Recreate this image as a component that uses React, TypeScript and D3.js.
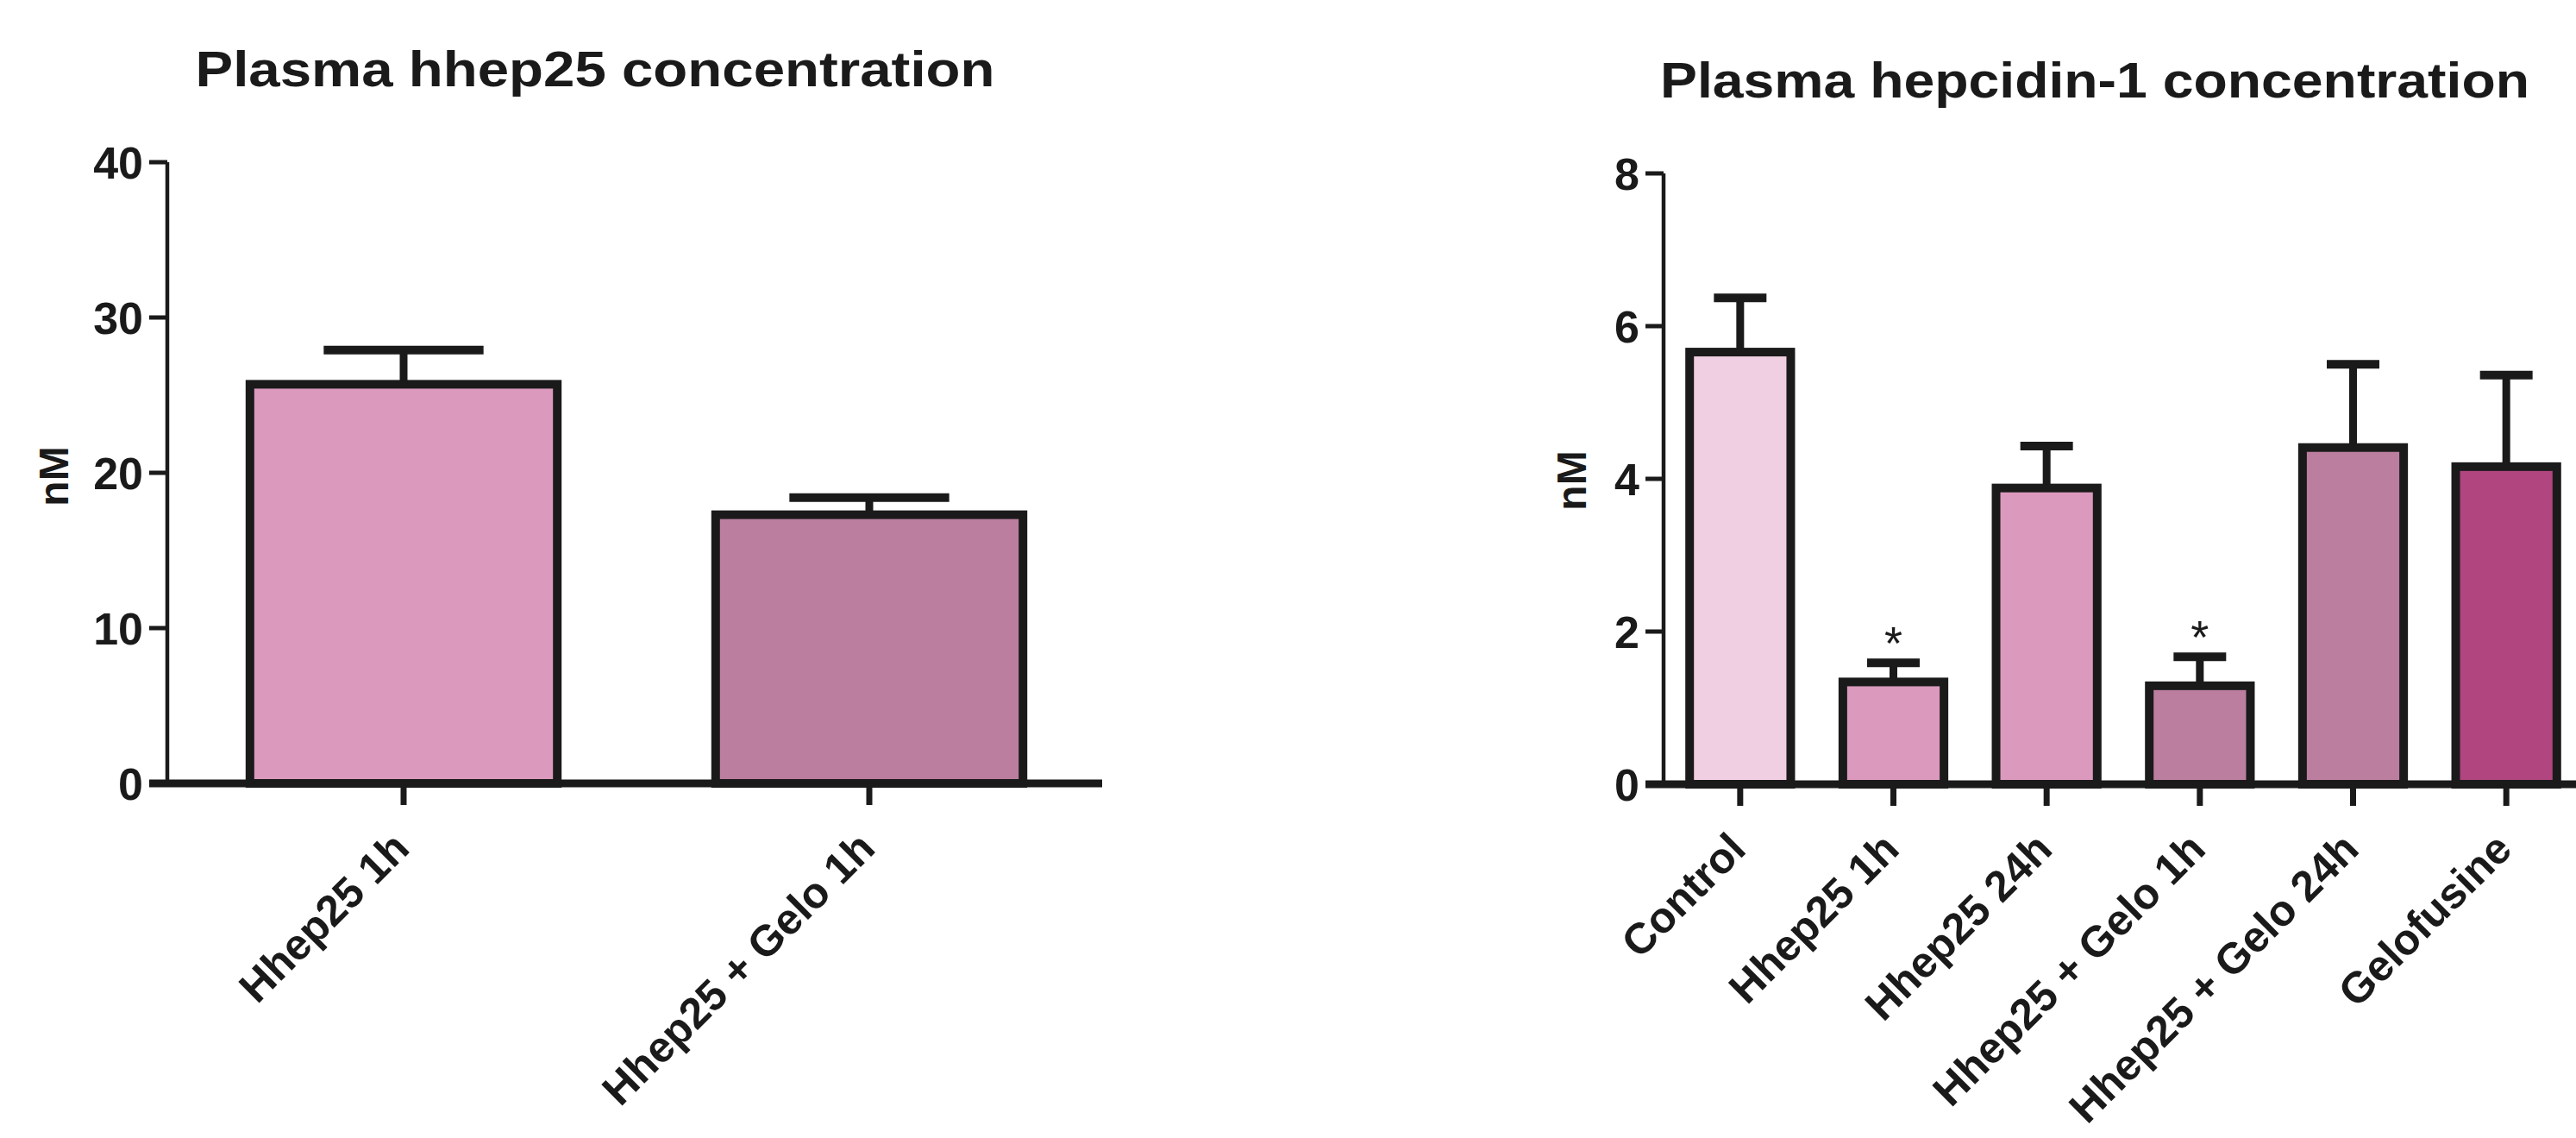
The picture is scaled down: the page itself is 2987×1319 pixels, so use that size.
import React from "react";
import * as d3 from "d3";

// ---- Data ----
const leftTitle = "Plasma hhep25 concentration";
const leftCategories = ["Hhep25 1h", "Hhep25 + Gelo 1h"];
const leftMeans = [25.7, 17.3];
const leftSem = [2.2, 1.1];
const leftColors = ["#DA99BD", "#BB7E9F"];
const leftTicks = [0, 10, 20, 30, 40];

const rightTitle = "Plasma hepcidin-1 concentration";
const rightCategories = ["Control", "Hhep25 1h", "Hhep25 24h", "Hhep25 + Gelo 1h", "Hhep25 + Gelo 24h", "Gelofusine"];
const rightMeans = [5.66, 1.34, 3.88, 1.29, 4.41, 4.16];
const rightSem = [0.71, 0.25, 0.55, 0.38, 1.09, 1.2];
const rightSig = ["", "*", "", "*", "", ""];
const rightColors = ["#EFCFE1", "#DA99BD", "#DA99BD", "#BB7E9F", "#BB7E9F", "#B0457F"];
const rightTicks = [0, 2, 4, 6, 8];

const yLabel = "nM";

const FONT = "'Liberation Sans', Arial, Helvetica, sans-serif";
const INK = "#1a1a1a";

type PanelProps = {
  title: string;
  titleX: number;
  titleY: number;
  titleW: number;
  cats: string[];
  means: number[];
  sems: number[];
  colors: string[];
  sig?: string[];
  ticks: number[];
  yMax: number;
  axisX: number;
  xStart: number;
  xEnd: number;
  yTop: number;
  yBottom: number;
  yLabelX: number;
  yLabelY: number;
};

function Panel(p: PanelProps) {
  const y = d3.scaleLinear().domain([0, p.yMax]).range([p.yBottom, p.yTop]);
  const x = d3
    .scaleBand<string>()
    .domain(p.cats)
    .range([p.xStart, p.xEnd])
    .paddingInner(0.34)
    .paddingOuter(0.17);
  const bw = x.bandwidth();
  const capW = bw * 0.52;
  return (
    <g>
      <text
        x={p.titleX}
        y={p.titleY}
        textAnchor="middle"
        fontFamily={FONT}
        fontWeight="bold"
        fontSize={58}
        textLength={p.titleW}
        lengthAdjust="spacingAndGlyphs"
        fill={INK}
      >
        {p.title}
      </text>
      <text
        transform={`translate(${p.yLabelX},${p.yLabelY}) rotate(-90)`}
        textAnchor="middle"
        dominantBaseline="central"
        fontFamily={FONT}
        fontWeight="bold"
        fontSize={48}
        fill={INK}
      >
        {yLabel}
      </text>
      {/* y axis */}
      <line x1={p.axisX} x2={p.axisX} y1={y(p.yMax)} y2={y(0)} stroke={INK} strokeWidth={4.5} />
      {p.ticks.map((t) => (
        <g key={t}>
          <line x1={p.axisX - 21} x2={p.axisX} y1={y(t)} y2={y(t)} stroke={INK} strokeWidth={5} />
          <text
            x={p.axisX - 28}
            y={y(t) + 19}
            textAnchor="end"
            fontFamily={FONT}
            fontWeight="bold"
            fontSize={52}
            fill={INK}
          >
            {t}
          </text>
        </g>
      ))}
      {/* bars */}
      {p.cats.map((c, i) => {
        const x0 = x(c)!;
        const cx = x0 + bw / 2;
        const top = y(p.means[i]);
        const errY = y(p.means[i] + p.sems[i]);
        return (
          <g key={c}>
            <line x1={cx} x2={cx} y1={top} y2={errY} stroke={INK} strokeWidth={9} />
            <line x1={cx - capW / 2} x2={cx + capW / 2} y1={errY} y2={errY} stroke={INK} strokeWidth={10} />
            <rect
              x={x0}
              y={top}
              width={bw}
              height={y(0) - top}
              fill={p.colors[i]}
              stroke={INK}
              strokeWidth={10}
            />
            {p.sig && p.sig[i] ? (
              <text
                x={cx}
                y={errY - 36 + 0.58 * 54}
                textAnchor="middle"
                fontFamily={FONT}
                fontSize={54}
                fill={INK}
              >
                {p.sig[i]}
              </text>
            ) : null}
          </g>
        );
      })}
      {/* x axis */}
      <line x1={p.axisX - 21} x2={p.xEnd} y1={y(0)} y2={y(0)} stroke={INK} strokeWidth={9} />
      {p.cats.map((c) => {
        const cx = x(c)! + bw / 2;
        return (
          <g key={"t" + c}>
            <line x1={cx} x2={cx} y1={y(0)} y2={y(0) + 25} stroke={INK} strokeWidth={7} />
            <text
              transform={`translate(${cx + 9},${y(0) + 78}) rotate(-45)`}
              textAnchor="end"
              fontFamily={FONT}
              fontWeight="bold"
              fontSize={50}
              fill={INK}
            >
              {c}
            </text>
          </g>
        );
      })}
    </g>
  );
}

export default function App() {
  return (
    <svg
      width={2987}
      height={1319}
      style={{ position: "absolute", left: 0, top: 0, display: "block", background: "#ffffff" }}
    >
      <rect x={0} y={0} width={2987} height={1319} fill="#ffffff" />
      <Panel
        title={leftTitle}
        titleX={690}
        titleY={100}
        titleW={927}
        cats={leftCategories}
        means={leftMeans}
        sems={leftSem}
        colors={leftColors}
        ticks={leftTicks}
        yMax={40}
        axisX={194}
        xStart={198}
        xEnd={1278}
        yTop={188}
        yBottom={908}
        yLabelX={62}
        yLabelY={552}
      />
      <Panel
        title={rightTitle}
        titleX={2429}
        titleY={113}
        titleW={1008}
        cats={rightCategories}
        means={rightMeans}
        sems={rightSem}
        colors={rightColors}
        sig={rightSig}
        ticks={rightTicks}
        yMax={8}
        axisX={1929}
        xStart={1929}
        xEnd={2995}
        yTop={201}
        yBottom={909}
        yLabelX={1822}
        yLabelY={557}
      />
    </svg>
  );
}
